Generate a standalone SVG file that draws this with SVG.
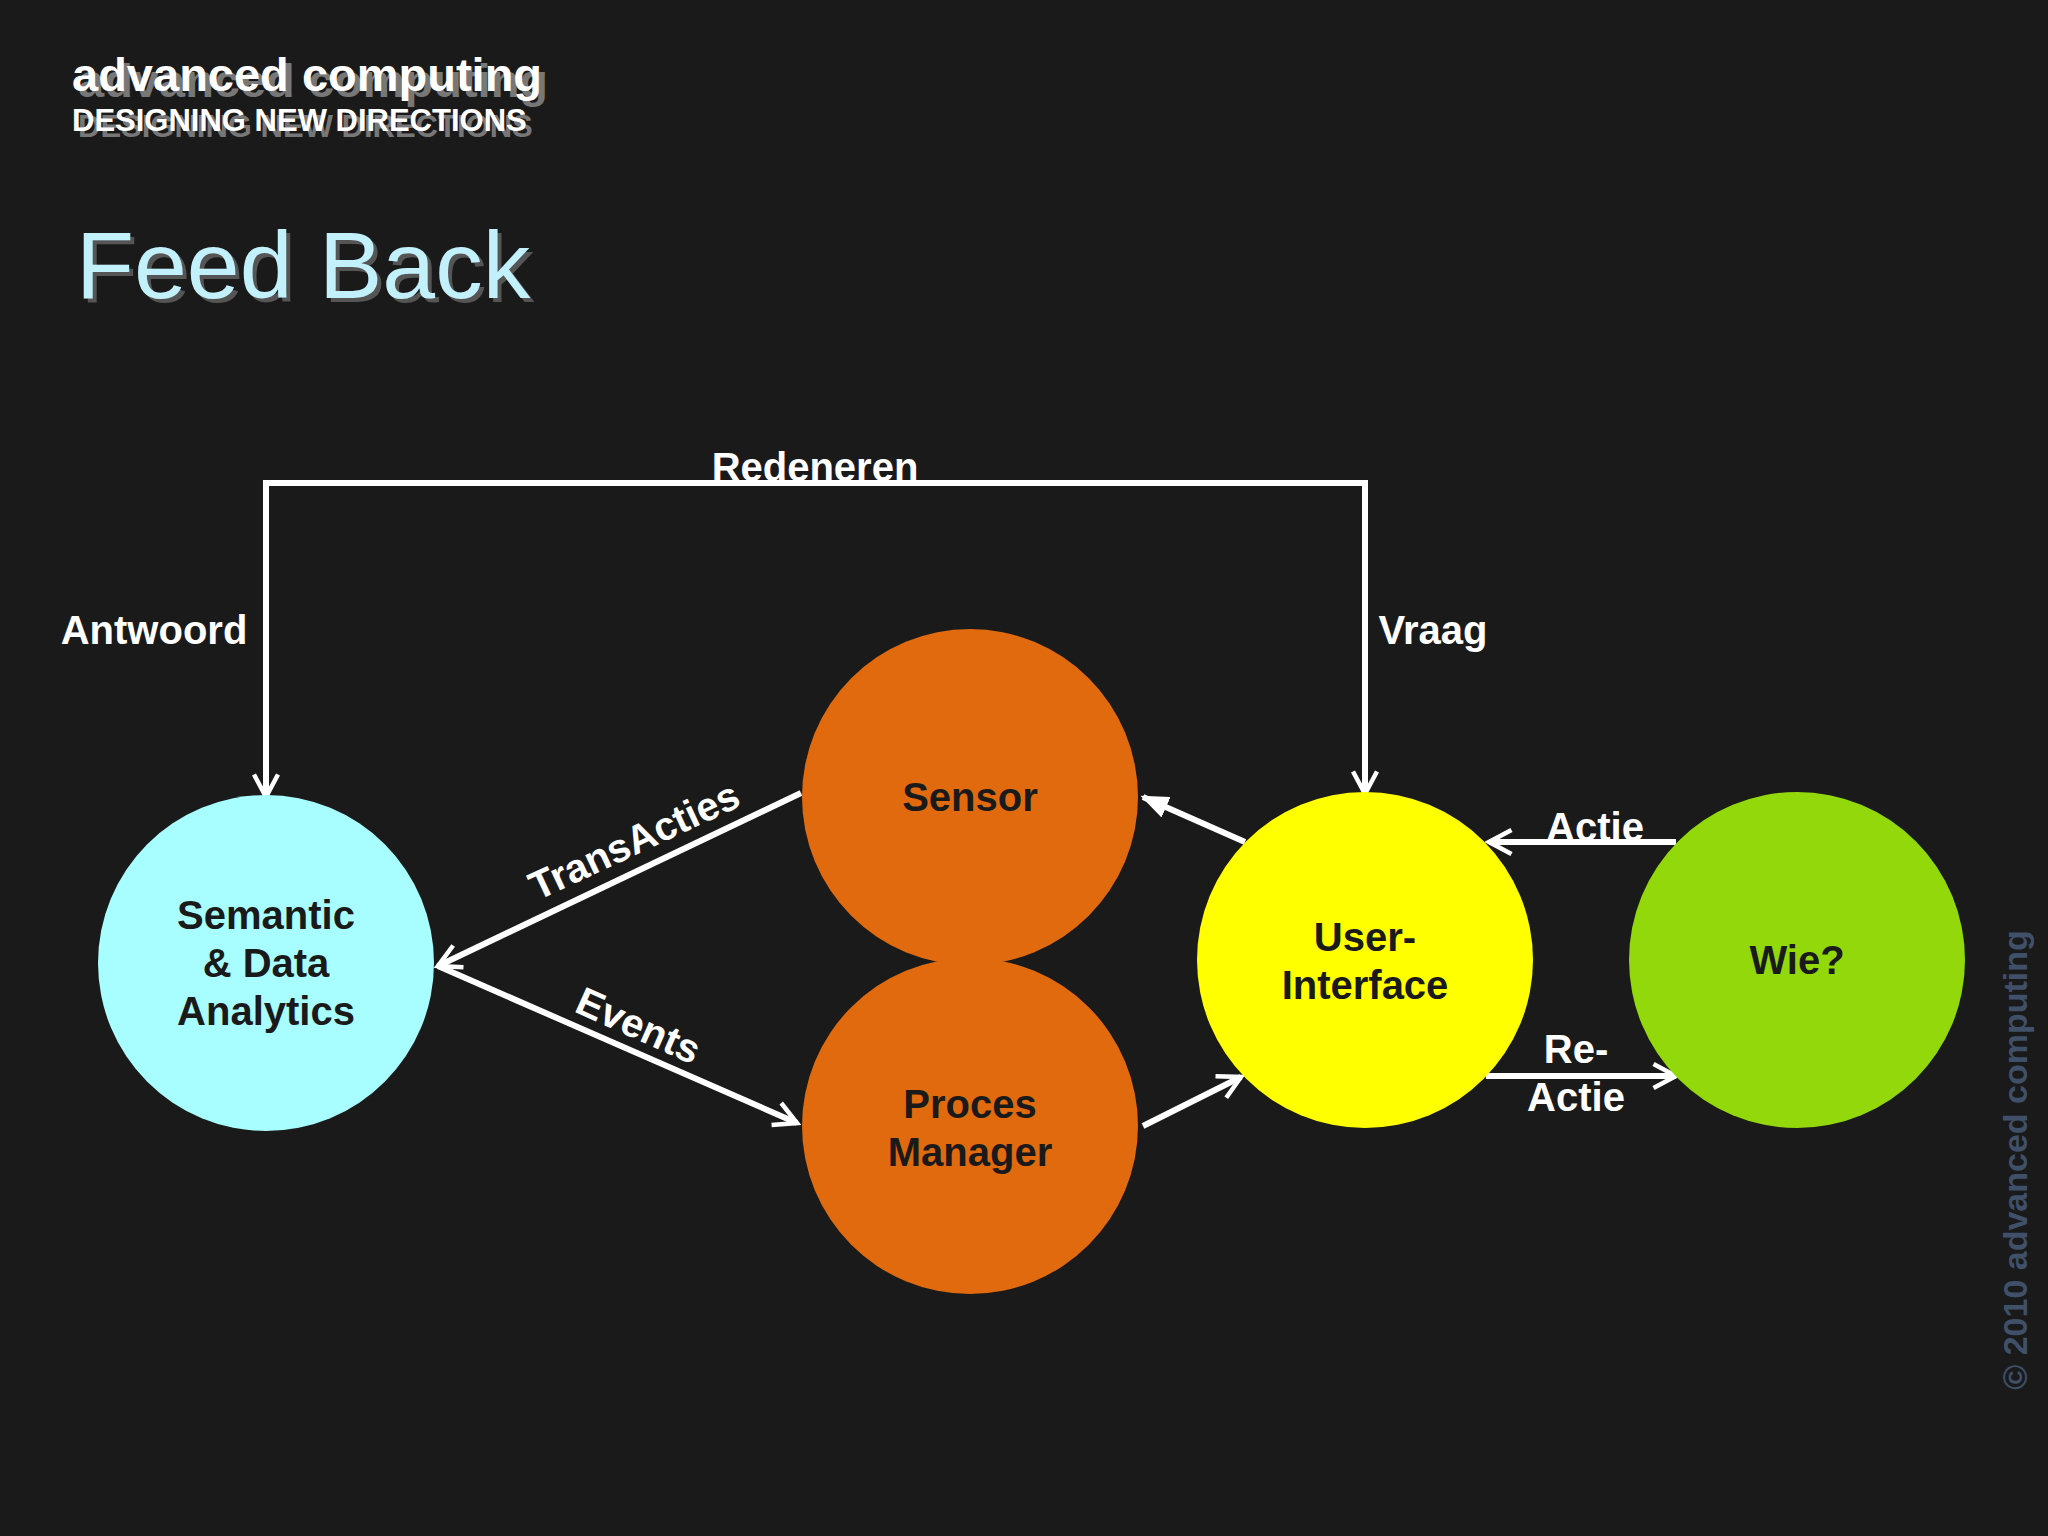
<svg xmlns="http://www.w3.org/2000/svg" width="2048" height="1536" viewBox="0 0 2048 1536">
<defs>
<marker id="ah" viewBox="0 0 20 20" refX="17" refY="10" markerWidth="30" markerHeight="30" markerUnits="userSpaceOnUse" orient="auto"><path d="M2,2 L17,10 L2,18" fill="none" stroke="#fff" stroke-width="3"/></marker>
<marker id="tri" viewBox="0 0 20 20" refX="18" refY="10" markerWidth="28" markerHeight="28" markerUnits="userSpaceOnUse" orient="auto"><path d="M0,2 L20,10 L0,18 Z" fill="#fff"/></marker>
</defs>
<style>
.n{font-family:"Liberation Sans",Arial,sans-serif;font-weight:bold;font-size:40px;fill:#1a1a1a;text-anchor:middle}
.l{font-family:"Liberation Sans",Arial,sans-serif;font-weight:bold;font-size:40px;fill:#fff;text-anchor:middle}
.c{fill:none;stroke:#fff;stroke-width:6}
</style>
<rect width="2048" height="1536" fill="#1a1a1b"/>
<g font-family="Liberation Sans,Arial,sans-serif" font-weight="bold">
<text x="78" y="97" font-size="47" fill="#777">advanced computing</text>
<text x="72" y="91" font-size="47" fill="#fff">advanced computing</text>
<text x="78" y="137" font-size="31" fill="#777">DESIGNING NEW DIRECTIONS</text>
<text x="72" y="131" font-size="31" fill="#fff">DESIGNING NEW DIRECTIONS</text>
</g>
<text x="80" y="302" font-family="Liberation Sans,Arial,sans-serif" font-size="95" fill="#555">Feed Back</text>
<text x="76" y="298" font-family="Liberation Sans,Arial,sans-serif" font-size="95" fill="#c2f0fb">Feed Back</text>
<text transform="translate(2027,1160) rotate(-90)" text-anchor="middle" font-family="Liberation Sans,Arial,sans-serif" font-weight="bold" font-size="34" fill="#3f5068">© 2010 advanced computing</text>
<g id="connectors">
<path class="c" d="M266,797 V483 H1365 V794" marker-end="url(#ah)"/>
<line class="c" x1="266" y1="500" x2="266" y2="797" marker-end="url(#ah)"/>
<line class="c" x1="801" y1="793" x2="438" y2="966" marker-end="url(#ah)"/>
<line class="c" x1="438" y1="966" x2="797" y2="1123" marker-end="url(#ah)"/>
<line class="c" x1="1143" y1="1126" x2="1241" y2="1077" marker-end="url(#ah)"/>
<line class="c" x1="1245" y1="842" x2="1143" y2="797" marker-end="url(#tri)"/>
<line class="c" x1="1676" y1="842" x2="1489" y2="842" marker-end="url(#ah)"/>
<line class="c" x1="1486" y1="1076" x2="1676" y2="1076" marker-end="url(#ah)"/>
<text class="l" x="815" y="481">Redeneren</text>
<text class="l" x="154" y="644">Antwoord</text>
<text class="l" x="1433" y="644">Vraag</text>
<text class="l" transform="translate(640,853) rotate(-25)">TransActies</text>
<text class="l" transform="translate(633,1038) rotate(24)">Events</text>
<text class="l" x="1595" y="841">Actie</text>
<text class="l" x="1576" y="1063">Re-</text>
<text class="l" x="1576" y="1111">Actie</text>
</g>
<g id="semantic"><circle cx="266" cy="963" r="168" fill="#a8fdfe"/><text class="n" x="266" y="929">Semantic</text><text class="n" x="266" y="977">&amp; Data</text><text class="n" x="266" y="1025">Analytics</text></g>
<g id="sensor"><circle cx="970" cy="797" r="168" fill="#e16a0e"/><text class="n" x="970" y="811">Sensor</text></g>
<g id="proces"><circle cx="970" cy="1126" r="168" fill="#e16a0e"/><text class="n" x="970" y="1118">Proces</text><text class="n" x="970" y="1166">Manager</text></g>
<g id="ui"><circle cx="1365" cy="960" r="168" fill="#ffff00"/><text class="n" x="1365" y="951">User-</text><text class="n" x="1365" y="999">Interface</text></g>
<g id="wie"><circle cx="1797" cy="960" r="168" fill="#93d80a"/><text class="n" x="1797" y="974">Wie?</text></g>
</svg>
